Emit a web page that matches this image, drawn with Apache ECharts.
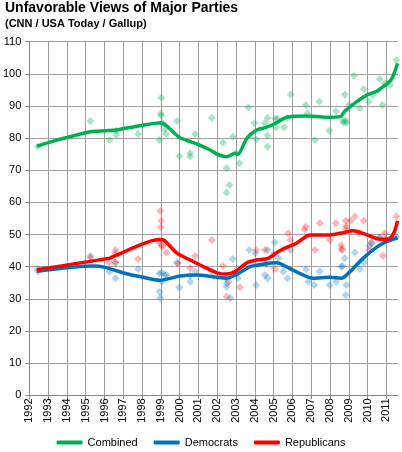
<!DOCTYPE html>
<html>
<head>
<meta charset="utf-8">
<script src="https://cdn.jsdelivr.net/npm/echarts@6/dist/echarts.min.js"></script>
<style>
html,body{margin:0;padding:0;background:#fff;}
#chart{width:402px;height:452px;}
</style>
</head>
<body>
<div id="chart"></div>
<script>
var yearTicks = [1992,1993,1994,1995,1996,1997,1998,1999,2000,2001,2002,2003,2004,2005,2006,2007,2008,2009,2010,2011];

var combinedPolls = [[1992.46,77.3],[1995.25,85.3],[1996.27,79.4],[1996.62,82.3],[1996.62,81],[1997.79,81.3],[1998.92,79.4],[1999.02,92.6],[1999.0,87.7],[1999.02,87],[1999.1,84.6],[1999.2,82.8],[1999.27,81.3],[1999.86,85.3],[1999.98,74.4],[2000.56,75.3],[2000.56,74.3],[2000.83,81.3],[2001.71,86.3],[2002.3,78.6],[2002.5,70.6],[2002.5,63.1],[2002.65,65.4],[2002.83,80.4],[2003.0,75.3],[2003.18,72.2],[2003.66,89.5],[2003.98,84.6],[2004.07,79.6],[2004.54,84.6],[2004.67,86.3],[2004.67,80.8],[2004.67,77.3],[2005.08,86.1],[2005.13,83.4],[2005.2,86],[2005.55,83.4],[2005.73,86.3],[2005.91,93.6],[2006.72,90.3],[2006.8,87.7],[2007.2,79.4],[2007.43,91.3],[2007.96,82.3],[2008.32,88.4],[2008.79,93.6],[2008.7,85.5],[2008.85,85.5],[2008.72,84.8],[2008.88,84.8],[2009.02,90.3],[2009.28,99.4],[2009.58,89.3],[2009.8,95.3],[2010.06,91.3],[2010.29,93.4],[2010.65,98.4],[2010.79,90.3],[2010.91,97],[2011.18,96.5],[2011.53,104.3]];

var demPolls = [[1992.46,38.5],[1995.25,43.3],[1996.26,38.5],[1996.58,41.3],[1996.58,36.4],[1997.79,39.3],[1998.92,37.9],[1999.06,38.1],[1999.2,37.4],[1999.3,37.4],[1999.06,35.3],[1998.92,32.2],[1998.97,30.3],[1999.86,41.3],[1999.98,33.5],[2000.56,37.3],[2000.56,35.3],[2000.83,38.5],[2001.71,38.5],[2002.45,36.4],[2002.5,34.8],[2002.5,33.8],[2002.7,30.3],[2002.83,42.4],[2003.1,36.4],[2003.7,45.2],[2004.03,44.2],[2004.07,34.3],[2004.67,45.2],[2004.54,37.4],[2004.67,36.4],[2004.6,41],[2005.07,47.5],[2005.25,42.6],[2005.51,38.5],[2005.73,36.4],[2005.91,45.2],[2006.72,39.2],[2006.85,35.3],[2007.16,34.3],[2007.46,38.5],[2007.99,34.3],[2008.33,35.3],[2008.79,42.6],[2008.67,40.2],[2008.6,40],[2008.87,34.3],[2008.84,31.2],[2009.32,44.4],[2009.58,39.2],[2009.8,41.3],[2010.1,46.4],[2010.2,47.3],[2010.65,49.1],[2010.91,48.5],[2011.0,48.3],[2011.14,48.3],[2011.53,49.3]];

var repPolls = [[1992.46,39.3],[1995.25,42.8],[1996.23,41.3],[1996.58,45.2],[1996.58,44.2],[1996.58,41.3],[1997.79,42.4],[1998.97,57.3],[1999.02,54.3],[1999.0,52.3],[1998.92,47.5],[1999.02,46.7],[1999.1,46.2],[1999.3,44.4],[1999.9,41],[2000.56,39.5],[2000.83,43.3],[2001.71,48.3],[2002.3,40.2],[2002.5,30.7],[2002.62,35.3],[2002.55,37],[2002.95,38.5],[2003.2,33.6],[2004.07,45.2],[2004.54,45.2],[2004.6,41],[2005.0,44],[2005.07,39.3],[2005.78,50.4],[2005.9,48.3],[2006.65,51.6],[2006.72,52.4],[2007.46,53.5],[2007.2,45.2],[2007.99,48.3],[2008.31,53.5],[2008.6,46.7],[2008.62,45.7],[2008.65,45.2],[2008.84,54.3],[2008.87,52.7],[2008.84,51.9],[2009.09,54.3],[2009.32,55.6],[2009.8,54.3],[2009.55,50.4],[2010.08,45.2],[2010.2,47.5],[2010.65,49.1],[2010.91,50.4],[2010.82,43.4],[2011.0,48.3],[2011.53,55.6]];

var combinedTrend = [[1992.4,77.5],[1993.6,79.6],[1995.25,82],[1996.05,82.3],[1996.6,82.5],[1997.8,83.8],[1999.0,84.8],[1999.94,80.4],[2000.56,78.9],[2001.0,78],[2001.62,76.3],[2002.0,75],[2002.5,74.2],[2002.95,75.3],[2003.1,75],[2003.57,79.9],[2004.1,82.5],[2004.63,83.4],[2005.16,84.8],[2005.69,86.5],[2006.75,86.9],[2007.8,86.5],[2008.56,86.7],[2008.79,88.4],[2009.41,91.3],[2010.03,93.6],[2010.5,94.6],[2010.83,96],[2011.27,98.3],[2011.6,103.3]];

var demTrend = [[1992.4,38.6],[1995.34,40.2],[1996.05,39.8],[1997.11,37.9],[1998.0,36.8],[1998.95,35.8],[2000.03,37.1],[2000.92,37.4],[2001.98,36.7],[2002.5,36.4],[2003.04,37.6],[2003.75,40],[2004.45,40.8],[2005.16,41.2],[2005.51,40.5],[2006.22,38.4],[2007.1,36.4],[2008.0,36.7],[2008.61,36.4],[2009.05,38.4],[2009.76,42.6],[2010.47,46],[2011.0,47.8],[2011.6,49]];

var repTrend = [[1992.4,39.1],[1996.23,42.6],[1996.44,43.1],[1998.9,48.5],[1999.15,48.3],[1999.86,44.2],[2000.56,42.1],[2001.27,40],[2001.98,38.1],[2002.5,37.7],[2002.95,38.5],[2003.57,41.2],[2004.1,42.1],[2004.7,42.6],[2005.25,44.7],[2005.6,45.8],[2006.22,47.3],[2006.93,49.9],[2008.0,49.9],[2008.7,50.6],[2009.23,51.2],[2009.76,50.4],[2010.47,48.8],[2011.09,48.5],[2011.39,50.4],[2011.6,54.3]];

var seriesNames = ['Combined','Democrats','Republicans'];
var lineColors = ['#00b050','#0070c0','#ff0000'];
var dotColors = ['rgba(0,176,80,0.42)','rgba(0,112,192,0.38)','rgba(255,0,0,0.36)'];

var chart = echarts.init(document.getElementById('chart'));
var font = 'Arial, "Liberation Sans", sans-serif';
var splitColors = yearTicks.map(function(){return '#a0a0a0';});
splitColors.push('rgba(0,0,0,0)');

var polls = [combinedPolls, demPolls, repPolls];
var trends = [combinedTrend, demTrend, repTrend];
var series = [];
for (var i = 0; i < 3; i++) {
  series.push({
    name: seriesNames[i] + ' polls',
    type: 'scatter',
    data: polls[i],
    symbol: 'diamond',
    symbolSize: 8,
    itemStyle: {color: dotColors[i]},
    z: 2,
    silent: true
  });
}
for (var j = 0; j < 3; j++) {
  series.push({
    name: seriesNames[j],
    type: 'line',
    data: trends[j],
    smooth: 0.25,
    showSymbol: false,
    lineStyle: {width: 3.5, color: lineColors[j]},
    itemStyle: {color: lineColors[j]},
    z: 5 + j
  });
}

chart.setOption({
  animation: false,
  backgroundColor: '#fff',
  title: {
    text: 'Unfavorable Views of Major Parties',
    subtext: '(CNN / USA Today / Gallup)',
    left: 5, top: 1, itemGap: 3, padding: 0,
    textStyle: {fontFamily: font, fontSize: 14, fontWeight: 'bold', color: '#000'},
    subtextStyle: {fontFamily: font, fontSize: 11, fontWeight: 'bold', color: '#000'}
  },
  legend: {
    data: seriesNames,
    left: 'center', top: 437, padding: 0,
    icon: 'roundRect', itemWidth: 26, itemHeight: 4, itemGap: 16,
    textStyle: {fontFamily: font, fontSize: 11, color: '#000'}
  },
  grid: {left: 29, right: 4, top: 41.7, bottom: 56.7, containLabel: false},
  xAxis: {
    type: 'value', min: 1992, max: 2011.62, interval: 1,
    axisLine: {show: true, lineStyle: {color: '#868686', width: 1}},
    axisTick: {show: true, length: 4, customValues: yearTicks, lineStyle: {color: '#868686'}},
    axisLabel: {
      rotate: 90, margin: 3, fontFamily: font, fontSize: 11, color: '#000',
      customValues: yearTicks,
      formatter: function(v){ return (Math.abs(v - Math.round(v)) < 1e-6) ? String(Math.round(v)) : ''; }
    },
    splitLine: {show: true, lineStyle: {color: splitColors, width: 1}}
  },
  yAxis: {
    type: 'value', min: 0, max: 110, interval: 10,
    axisLine: {show: true, lineStyle: {color: '#868686', width: 1}},
    axisTick: {show: true, length: 4, lineStyle: {color: '#868686'}},
    axisLabel: {margin: 8, fontFamily: font, fontSize: 11, color: '#000'},
    splitLine: {show: true, lineStyle: {color: '#a0a0a0', width: 1}}
  },
  series: series
});
</script>
</body>
</html>
